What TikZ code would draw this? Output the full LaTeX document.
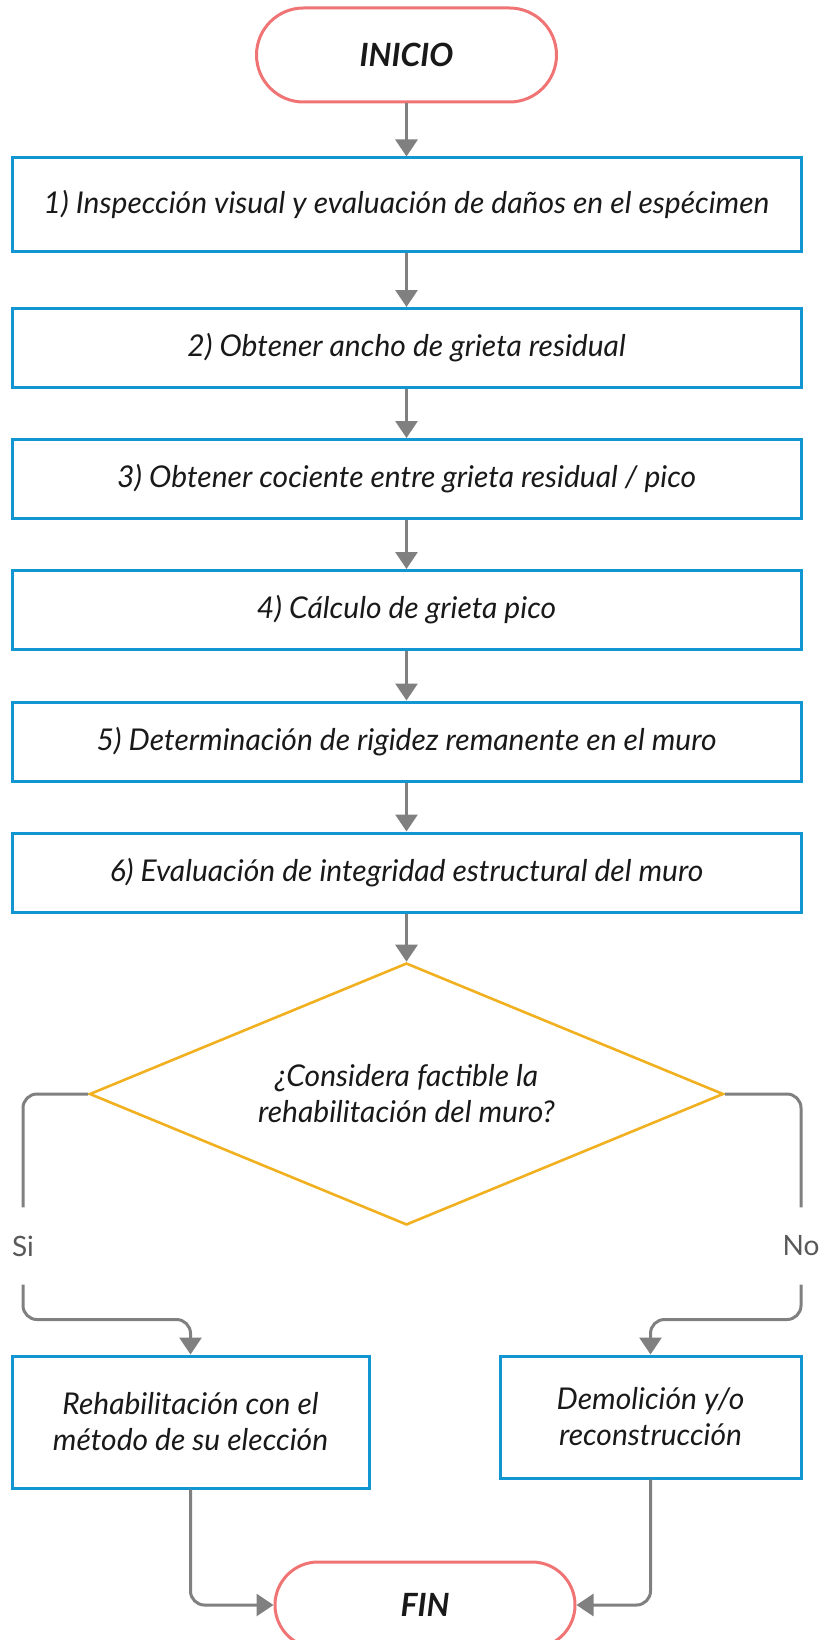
\documentclass[tikz,border=0pt]{standalone}
\usepackage{fontspec}
\setmainfont{Lato}
\usetikzlibrary{arrows.meta, shapes.geometric}

\definecolor{boxblue}{RGB}{18,150,210}
\definecolor{termred}{RGB}{240,116,116}
\definecolor{decyellow}{RGB}{240,176,32}
\definecolor{flowgray}{RGB}{128,128,128}

\begin{document}
\begin{tikzpicture}[
  x=1pt, y=-1pt,
  >={Triangle[width=22pt,length=17pt]},
  txt/.style={font=\fontsize{30}{36}\selectfont\itshape, text=black!90, align=center},
  terminal/.style={txt, draw=termred, line width=3pt, rounded corners=47pt,
    minimum width=300pt, minimum height=94pt, font=\fontsize{32}{36}\selectfont\bfseries\itshape},
  process/.style={txt, draw=boxblue, line width=3pt, minimum width=789pt, minimum height=79pt, inner sep=0pt},
  decision/.style={txt, diamond, aspect=2.4, draw=decyellow, line width=2.6pt, minimum width=634pt, minimum height=262pt, inner sep=0pt},
  conn/.style={draw=flowgray, line width=3pt, ->, rounded corners=14pt},
  answer/.style={font=\fontsize{28}{32}\selectfont, text=black!65, fill=white, minimum height=77pt, inner sep=0pt}
  ]
  \useasboundingbox (0,0) rectangle (823,1640);
  \clip (0,0) rectangle (823,1640);

  % main sequence
  \node[terminal] (inicio) at (406.5,55) {INICIO};
  \node[process, minimum height=93pt] (paso1) at (406.5,204.5) {1) Inspección visual y evaluación de daños en el espécimen};
  \node[process] (paso2) at (406.5,348) {2) Obtener ancho de grieta residual};
  \node[process] (paso3) at (406.5,479) {3) Obtener cociente entre grieta residual / pico};
  \node[process] (paso4) at (406.5,610) {4) Cálculo de grieta pico};
  \node[process] (paso5) at (406.5,741.5) {5) Determinación de rigidez remanente en el muro};
  \node[process] (paso6) at (406.5,872.5) {6) Evaluación de integridad estructural del muro};
  \node[decision] (decide) at (406.5,1094) {¿Considera factible la\\rehabilitación del muro?};

  % branches
  \node[answer] (si) at (23,1246) {Si};
  \node[answer] (no) at (801,1246) {No};
  \node[process, minimum width=357pt, minimum height=132pt] (rehab) at (190.5,1422) {Rehabilitación con el\\método de su elección};
  \node[process, minimum width=301pt, minimum height=122pt] (demol) at (650.5,1417) {Demolición y/o\\reconstrucción};
  \node[terminal, minimum height=86pt, rounded corners=43pt] (fin) at (425,1605) {FIN};

  \draw[conn] (inicio.south) -- (paso1.north);
  \draw[conn] (paso1.south) -- (paso2.north);
  \draw[conn] (paso2.south) -- (paso3.north);
  \draw[conn] (paso3.south) -- (paso4.north);
  \draw[conn] (paso4.south) -- (paso5.north);
  \draw[conn] (paso5.south) -- (paso6.north);
  \draw[conn] (paso6.south) -- (decide.north);

  \draw[conn, -] (decide.west) -| (si.north);
  \draw[conn] (si.south) |- ([yshift=35pt]rehab.north) -- (rehab.north);
  \draw[conn, -] (decide.east) -| (no.north);
  \draw[conn] (no.south) |- ([yshift=35pt]demol.north) -- (demol.north);

  \draw[conn] (rehab.south) |- (fin.west);
  \draw[conn] (demol.south) |- (fin.east);
\end{tikzpicture}
\end{document}
